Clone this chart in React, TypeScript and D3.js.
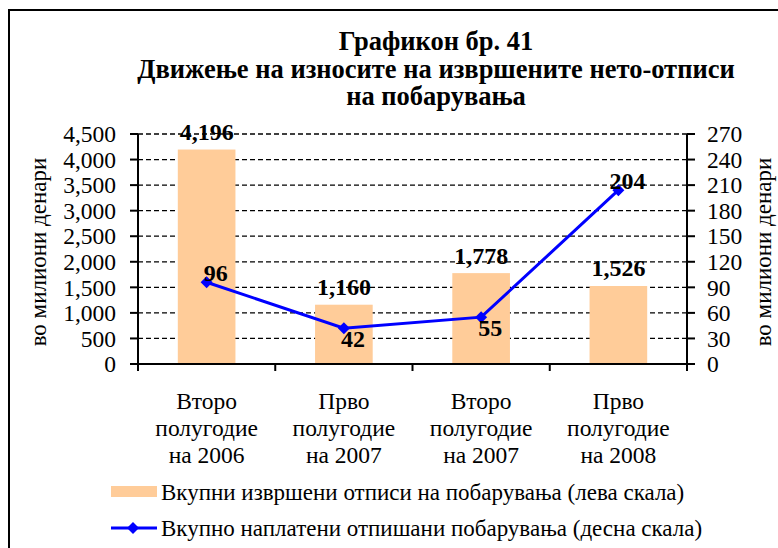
import * as d3 from 'd3';
import React from 'react';

const categories = ['Второ полугодие на 2006', 'Прво полугодие на 2007', 'Второ полугодие на 2007', 'Прво полугодие на 2008'];
const categoryLines = [
  ['Второ', 'полугодие', 'на 2006'],
  ['Прво', 'полугодие', 'на 2007'],
  ['Второ', 'полугодие', 'на 2007'],
  ['Прво', 'полугодие', 'на 2008'],
];
const writtenOff = [4196, 1160, 1778, 1526];
const collected = [96, 42, 55, 204];
// where the line label sits relative to its point: -1 above, 1 below
const collectedLabelSide = [-1, 1, 1, -1];
const leftTicks = [0, 500, 1000, 1500, 2000, 2500, 3000, 3500, 4000, 4500];
const rightTicks = [0, 30, 60, 90, 120, 150, 180, 210, 240, 270];
const titleLines = ['Графикон бр. 41', 'Движење на износите на извршените нето-отписи', 'на побарувања'];
const axisTitle = 'во милиони  денари';
const legendBars = 'Вкупни извршени отписи на побарувања (лева скала)';
const legendLine = 'Вкупно наплатени отпишани побарувања (десна скала)';

const W = 778;
const H = 548;
const BAR = '#FFCC99';
const BLUE = '#0000FF';
const SERIF = 'Liberation Serif';

const App = () => {
  const left = 138;
  const right = 687;
  const top = 134;
  const bottom = 364;

  const x = d3.scaleBand<string>().domain(categories).range([left, right]).padding(0);
  const yL = d3.scaleLinear().domain([0, 4500]).range([bottom, top]);
  const yR = d3.scaleLinear().domain([0, 270]).range([bottom, top]);
  const fmt = d3.format(',');
  const bw = x.bandwidth() * 0.42;
  const cx = (i: number) => (x(categories[i]) as number) + x.bandwidth() / 2;

  const line = d3
    .line<number>()
    .x((d, i) => cx(i))
    .y((d) => yR(d));

  const diamond = d3.symbol(d3.symbolSquare, 72)();

  const boundaries = categories.map((c) => x(c) as number).concat([right]);

  return (
    <svg width={W} height={H} style={{ position: 'absolute', left: 0, top: 0 }}>
      <rect x={0} y={0} width={W} height={H} fill="#fff" />
      <rect x={9} y={10} width={W + 20} height={H + 20} fill="none" stroke="#000" strokeWidth={2} />

      {titleLines.map((t, i) => (
        <text key={t} fontFamily={SERIF} x={436} y={50 + i * 27.5} textAnchor="middle" fontWeight="bold" fontSize={26.5}>
          {t}
        </text>
      ))}

      {/* gridlines */}
      {leftTicks.slice(1).map((t) => (
        <line key={t} x1={left} x2={right} y1={yL(t)} y2={yL(t)} stroke="#000" strokeWidth={1.3} strokeDasharray="5,3" />
      ))}

      {/* bars */}
      {writtenOff.map((v, i) => (
        <rect key={i} x={cx(i) - bw / 2} y={yL(v)} width={bw} height={bottom - yL(v)} fill={BAR} />
      ))}

      {/* axes */}
      <line x1={left} x2={left} y1={top} y2={bottom} stroke="#000" strokeWidth={2} />
      <line x1={right} x2={right} y1={top} y2={bottom} stroke="#000" strokeWidth={2} />
      <line x1={left - 8} x2={right + 8} y1={bottom} y2={bottom} stroke="#000" strokeWidth={2} />
      {leftTicks.map((t) => (
        <g key={t}>
          <line x1={left - 8} x2={left} y1={yL(t)} y2={yL(t)} stroke="#000" strokeWidth={2} />
          <text fontFamily={SERIF} x={116} y={yL(t)} dy="0.35em" textAnchor="end" fontSize={23.5}>
            {fmt(t)}
          </text>
        </g>
      ))}
      {rightTicks.map((t) => (
        <g key={t}>
          <line x1={right} x2={right + 8} y1={yR(t)} y2={yR(t)} stroke="#000" strokeWidth={2} />
          <text fontFamily={SERIF} x={707} y={yR(t)} dy="0.35em" textAnchor="start" fontSize={23.5}>
            {t}
          </text>
        </g>
      ))}
      {boundaries.map((b, i) => (
        <line key={i} x1={b} x2={b} y1={bottom} y2={bottom + 7} stroke="#000" strokeWidth={2} />
      ))}

      {/* axis titles */}
      <text fontFamily={SERIF} transform={`translate(46,252) rotate(-90)`} textAnchor="middle" fontSize={23}>
        {axisTitle}
      </text>
      <text fontFamily={SERIF} transform={`translate(771,252) rotate(-90)`} textAnchor="middle" fontSize={23}>
        {axisTitle}
      </text>

      {/* category labels */}
      {categoryLines.map((lines, i) =>
        lines.map((l, j) => (
          <text fontFamily={SERIF} key={`${i}-${j}`} x={cx(i)} y={401 + j * 27} dy="0.35em" textAnchor="middle" fontSize={23.5}>
            {l}
          </text>
        )),
      )}

      {/* line series */}
      <path d={line(collected) as string} fill="none" stroke={BLUE} strokeWidth={3} />
      {collected.map((v, i) => (
        <path key={i} d={diamond as string} transform={`translate(${cx(i)},${yR(v)}) rotate(45)`} fill={BLUE} />
      ))}

      {/* bar labels */}
      {writtenOff.map((v, i) => (
        <text fontFamily={SERIF} key={i} x={cx(i)} y={yL(v) - 18} dy="0.35em" textAnchor="middle" fontWeight="bold" fontSize={24}>
          {fmt(v)}
        </text>
      ))}
      {/* line labels */}
      {collected.map((v, i) => (
        <text
          fontFamily={SERIF}
          key={i}
          x={cx(i) + 9}
          y={yR(v) + collectedLabelSide[i] * 10}
          dy="0.35em"
          textAnchor="middle"
          fontWeight="bold"
          fontSize={24}
        >
          {v}
        </text>
      ))}

      {/* legend */}
      <rect x={111} y={486} width={46} height={11} fill={BAR} />
      <text fontFamily={SERIF} x={161} y={492} dy="0.35em" fontSize={23}>
        {legendBars}
      </text>
      <line x1={111} x2={157} y1={528} y2={528} stroke={BLUE} strokeWidth={3} />
      <path d={diamond as string} transform="translate(133,528) rotate(45)" fill={BLUE} />
      <text fontFamily={SERIF} x={161} y={528} dy="0.35em" fontSize={23}>
        {legendLine}
      </text>
    </svg>
  );
};

export default App;
